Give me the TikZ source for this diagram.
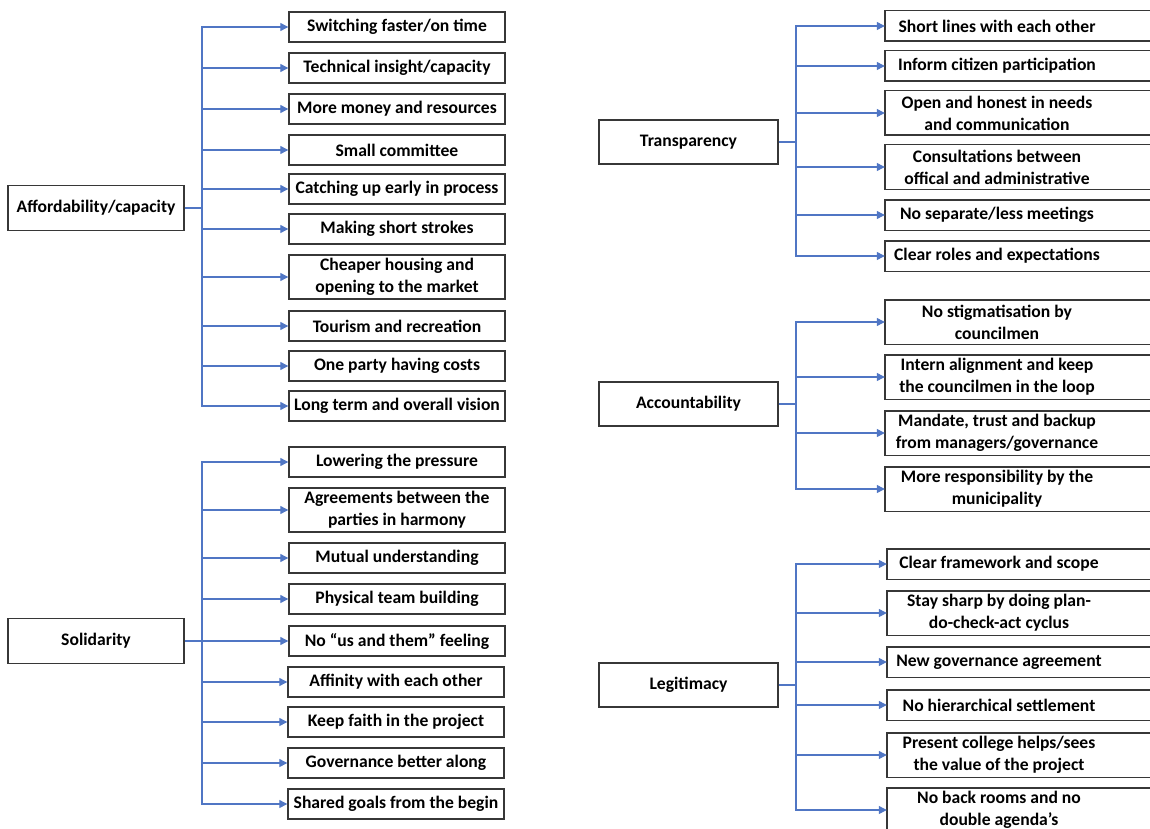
\documentclass[tikz,border=0pt]{standalone}
\usepackage{fontspec}
\setmainfont{Carlito}
\usetikzlibrary{arrows.meta}
\definecolor{conncol}{RGB}{80,118,196}
\definecolor{boxcol}{RGB}{55,55,55}
\begin{document}
\begin{tikzpicture}[x=1pt,y=-1pt,
  every node/.style={font=\fontsize{17.6}{21.8}\selectfont\bfseries, inner sep=0pt, align=center},
  parent/.style={draw=boxcol, line width=1.4pt, minimum width=176, minimum height=45},
  rparent/.style={draw=boxcol, line width=1.4pt, minimum width=179, minimum height=44},
  leaf/.style={draw=boxcol, line width=1.4pt, minimum width=216, minimum height=30},
  leafii/.style={leaf, minimum height=44},
  rleaf/.style={minimum width=224, minimum height=30},
  rleafii/.style={rleaf, minimum height=44},
  boxline/.style={draw=boxcol, line width=1.4pt},
  conn/.style={draw=conncol, line width=1.2pt},
  arr/.style={conn, -{Triangle[length=8pt,width=8pt]}}
]
\useasboundingbox (0,0) rectangle (1150,829);

% ---------- Affordability/capacity ----------
\node[parent] (A) at (96,208) {Affordability/capacity};
\coordinate (tA) at (202,208);
\node[leaf]   (a1) at (397,27)  {Switching faster/on time};
\node[leaf]   (a2) at (397,68)  {Technical insight/capacity};
\node[leaf]   (a3) at (397,109) {More money and resources};
\node[leaf]   (a4) at (397,150) {Small committee};
\node[leaf]   (a5) at (397,189) {Catching up early in process};
\node[leaf]   (a6) at (397,229) {Making short strokes};
\node[leafii] (a7) at (397,277) {Cheaper housing and\\opening to the market};
\node[leaf]   (a8) at (397,326) {Tourism and recreation};
\node[leaf]   (a9) at (397,366) {One party having costs};
\node[leaf]   (a10) at (397,406) {Long term and overall vision};
\draw[conn] (A.east) -- (tA);
\foreach \c in {a1,a2,a3,a4,a5,a6,a7,a8,a9,a10} \draw[arr] (tA) |- (\c.west);

% ---------- Solidarity ----------
\node[parent] (S) at (96,641) {Solidarity};
\coordinate (tS) at (202,641);
\node[leaf]   (s1) at (397,462) {Lowering the pressure};
\node[leafii] (s2) at (397,510) {Agreements between the\\parties in harmony};
\node[leaf]   (s3) at (397,558) {Mutual understanding};
\node[leaf]   (s4) at (397,599) {Physical team building};
\node[leaf]   (s5) at (397,641) {No “us and them” feeling};
\node[leaf]   (s6) at (396,682) {Affinity with each other};
\node[leaf]   (s7) at (396,722) {Keep faith in the project};
\node[leaf]   (s8) at (396,763) {Governance better along};
\node[leaf]   (s9) at (396,804) {Shared goals from the begin};
\draw[conn] (S.east) -- (tS);
\foreach \c in {s1,s2,s3,s4,s5,s6,s7,s8,s9} \draw[arr] (tS) |- (\c.west);

% ---------- Transparency ----------
\node[rparent] (T) at (688.5,142) {Transparency};
\coordinate (tT) at (796,142);
\node[rleaf]   (t1) at (997,26)  {Short lines with each other};
\node[rleaf]   (t2) at (997,66)  {Inform citizen participation};
\node[rleafii] (t3) at (997,113) {Open and honest in needs\\and communication};
\node[rleafii] (t4) at (997,167) {Consultations between\\offical and administrative};
\node[rleaf]   (t5) at (997,215) {No separate/less meetings};
\node[rleaf]   (t6) at (997,256) {Clear roles and expectations};
\draw[conn] (T.east) -- (tT);
\foreach \c in {t1,t2,t3,t4,t5,t6} {
  \draw[boxline] (\c.north west) rectangle ([xshift=280]\c.south west);
  \draw[arr] (tT) |- (\c.west);
}

% ---------- Accountability ----------
\node[rparent] (C) at (688.5,404) {Accountability};
\coordinate (tC) at (796,404);
\node[rleafii] (c1) at (997,322) {No stigmatisation by\\councilmen};
\node[rleafii] (c2) at (997,377) {Intern alignment and keep\\the councilmen in the loop};
\node[rleafii] (c3) at (997,433) {Mandate, trust and backup\\from managers/governance};
\node[rleafii] (c4) at (997,489) {More responsibility by the\\municipality};
\draw[conn] (C.east) -- (tC);
\foreach \c in {c1,c2,c3,c4} {
  \draw[boxline] (\c.north west) rectangle ([xshift=280]\c.south west);
  \draw[arr] (tC) |- (\c.west);
}

% ---------- Legitimacy ----------
\node[rparent] (L) at (688.5,685) {Legitimacy};
\coordinate (tL) at (796,685);
\node[rleaf]   (l1) at (999,564) {Clear framework and scope};
\node[rleafii] (l2) at (999,613) {Stay sharp by doing plan-\\do-check-act cyclus};
\node[rleaf]   (l3) at (999,662) {New governance agreement};
\node[rleaf]   (l4) at (999,705) {No hierarchical settlement};
\node[rleafii] (l5) at (999,755) {Present college helps/sees\\the value of the project};
\node[rleafii] (l6) at (999,810) {No back rooms and no\\double agenda’s};
\draw[conn] (L.east) -- (tL);
\foreach \c in {l1,l2,l3,l4,l5,l6} {
  \draw[boxline] (\c.north west) rectangle ([xshift=280]\c.south west);
  \draw[arr] (tL) |- (\c.west);
}
\end{tikzpicture}
\end{document}
